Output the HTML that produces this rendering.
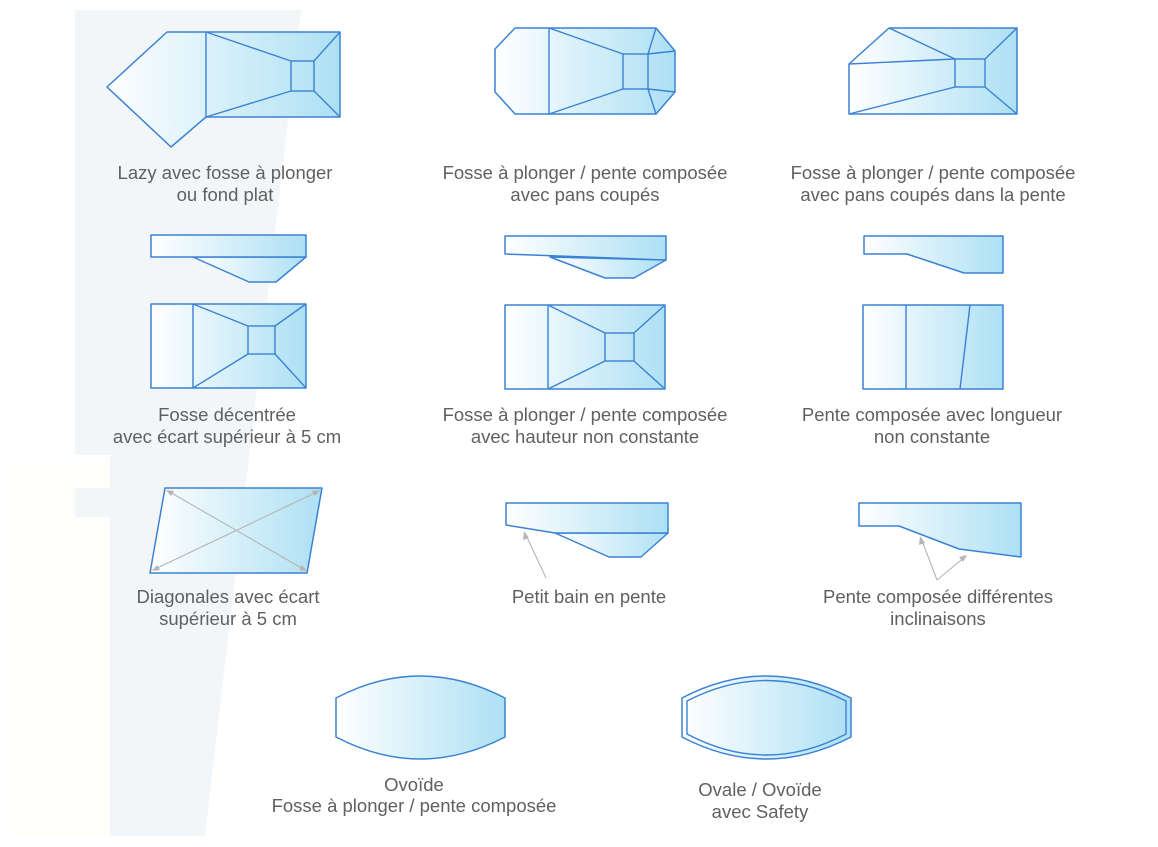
<!DOCTYPE html>
<html><head><meta charset="utf-8"><style>
html,body{margin:0;padding:0;background:#fff;}
svg{display:block;}
text{font-family:"Liberation Sans",sans-serif;font-size:18.5px;fill:#606060;text-anchor:middle;}
.s{fill:url(#g);stroke:#3b82d4;stroke-width:1.5;stroke-linejoin:round;}
.l{fill:none;stroke:#3b82d4;stroke-width:1.4;}
.a{stroke:#b5b5b5;stroke-width:1.1;fill:none;}
.h{fill:#b5b5b5;}
</style></head><body>
<svg width="1158" height="847" viewBox="0 0 1158 847">
<defs>
<linearGradient id="g" x1="0" y1="0" x2="1" y2="0">
<stop offset="0" stop-color="#ffffff"/><stop offset="1" stop-color="#ade0f4"/>
</linearGradient>
</defs>
<rect x="10" y="462" width="100" height="374" fill="#fefefb"/>
<polygon points="75,10 301,10 205,836 110,836 110,455 75,455" fill="#f3f6f8"/>
<rect x="75" y="488" width="35" height="29" fill="#f3f6f8"/>

<polygon class="s" points="107,87 167,32 340,32 340,117 206,117 171,147"/>
<path class="l" d="M206,32V117M206,32L291,61M206,117L291,91M340,32L314,61M340,117L314,91"/>
<rect class="l" x="291" y="61" width="23" height="30"/>
<text x="225" y="179">Lazy avec fosse à plonger</text>
<text x="225" y="201">ou fond plat</text>

<polygon class="s" points="495,49 515,28 656,28 675,51 675,92 656,114 515,114 495,92"/>
<path class="l" d="M549,28V114M549,28L623,54M549,114L623,89M656,28L648,54M656,114L648,89M675,51L648,54M675,92L648,89"/>
<rect class="l" x="623" y="54" width="25" height="35"/>
<text x="585" y="179">Fosse à plonger / pente composée</text>
<text x="585" y="201">avec pans coupés</text>

<polygon class="s" points="849,64 889,28 1017,28 1017,114 849,114"/>
<path class="l" d="M889,28L955,59M849,64L955,59M849,114L955,87M1017,28L985,59M1017,114L985,87"/>
<rect class="l" x="955" y="59" width="30" height="28"/>
<text x="933" y="179">Fosse à plonger / pente composée</text>
<text x="933" y="201">avec pans coupés dans la pente</text>

<polygon class="s" points="193,257 306,257 276,282 249,282"/>
<rect class="s" x="151" y="235" width="155" height="22"/>

<polygon class="s" points="550,257 666,260 634,278 605,278"/>
<polygon class="s" points="505,236 666,236 666,260 505,254"/>

<polygon class="s" points="864,236 1003,236 1003,273 964,273 907,254 864,254"/>

<rect class="s" x="151" y="304" width="155" height="84"/>
<path class="l" d="M193,304V388M193,304L248,326M193,388L248,354M306,304L275,326M306,388L275,354"/>
<rect class="l" x="248" y="326" width="27" height="28"/>
<text x="227" y="421">Fosse décentrée</text>
<text x="227" y="443">avec écart supérieur à 5 cm</text>

<rect class="s" x="505" y="305" width="160" height="84"/>
<path class="l" d="M548,305V389M548,305L605,333M548,389L605,361M665,305L634,333M665,389L634,361"/>
<rect class="l" x="605" y="333" width="29" height="28"/>
<text x="585" y="421">Fosse à plonger / pente composée</text>
<text x="585" y="443">avec hauteur non constante</text>

<rect class="s" x="863" y="305" width="140" height="84"/>
<path class="l" d="M906,305V389M970,305L960,389"/>
<text x="932" y="421">Pente composée avec longueur</text>
<text x="932" y="443">non constante</text>

<polygon class="s" points="165,488 322,488 307,573 150,573"/>
<path class="a" d="M168,491L305,570M319,491L153,570"/>
<polygon class="h" points="166,490 174,491 171,496"/>
<polygon class="h" points="307,571 299,570 302,565"/>
<polygon class="h" points="320,490 312,491 315,496"/>
<polygon class="h" points="152,571 160,570 157,565"/>
<text x="228" y="603">Diagonales avec écart</text>
<text x="228" y="625">supérieur à 5 cm</text>

<polygon class="s" points="555,533 668,533 641,557 609,557"/>
<polygon class="s" points="506,503 668,503 668,533 555,533 506,525"/>
<path class="a" d="M546,578L525,533"/>
<polygon class="h" points="524,531 523,540 529,538"/>
<text x="589" y="603">Petit bain en pente</text>

<polygon class="s" points="859,503 1021,503 1021,557 959,549 899,526 859,526"/>
<path class="a" d="M937,580L921,538M937,580L966,556"/>
<polygon class="h" points="920,536 919,545 925,543"/>
<polygon class="h" points="967,555 959,557 963,562"/>
<text x="938" y="603">Pente composée différentes</text>
<text x="938" y="625">inclinaisons</text>

<path class="s" d="M336,698Q420,654 505,698L505,737Q420,781 336,737Z"/>
<text x="414" y="791">Ovoïde</text>
<text x="414" y="812">Fosse à plonger / pente composée</text>

<path class="s" d="M682,698Q766,654 851,698L851,737Q766,781 682,737Z"/>
<path class="l" d="M687,701Q766,660 846,701L846,734Q766,776 687,734Z"/>
<text x="760" y="796">Ovale / Ovoïde</text>
<text x="760" y="818">avec Safety</text>
</svg>
</body></html>
